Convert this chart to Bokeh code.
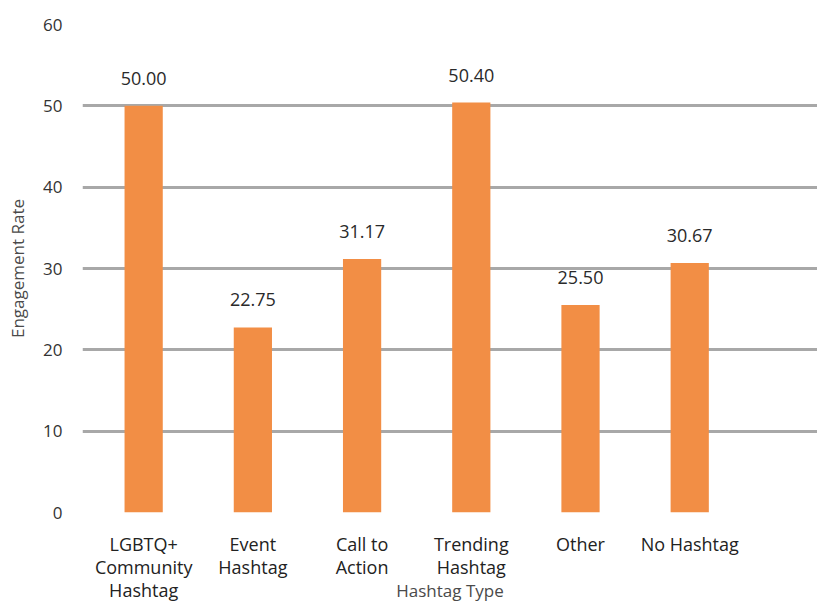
from bokeh.plotting import figure
from bokeh.models import ColumnDataSource, Range1d, FixedTicker, LabelSet
from bokeh.core.properties import value
from bokeh.embed import file_html
from bokeh.resources import INLINE

categories = ["LGBTQ+\nCommunity\nHashtag", "Event\nHashtag", "Call to\nAction",
              "Trending\nHashtag", "Other", "No Hashtag"]
engagement = [50.00, 22.75, 31.17, 50.40, 25.50, 30.67]
value_labels = ["50.00", "22.75", "31.17", "50.40", "25.50", "30.67"]
y_ticks = [0, 10, 20, 30, 40, 50, 60]

xs = list(range(len(categories)))
src = ColumnDataSource(dict(x=xs, y=engagement, lab=value_labels))

FONT = "Open Sans"

p = figure(width=817, height=604, output_backend="svg", toolbar_location=None,
           x_range=Range1d(-0.56, 6.17), y_range=Range1d(0, 60),
           min_border_left=82, min_border_right=0, min_border_top=24, min_border_bottom=20)
p.outline_line_color = None
p.background_fill_color = "white"
p.border_fill_color = "white"

p.vbar(x="x", top="y", width=0.35, source=src, fill_color="#F28E45", line_color=None)

labels = LabelSet(x="x", y="y", text="lab", source=src, text_align="center",
                  text_baseline="bottom", y_offset=21, text_font=value(FONT),
                  text_font_size="18px", text_color="#2a2a2a")
p.add_layout(labels)

# axes
p.xaxis.ticker = FixedTicker(ticks=xs)
p.xaxis.major_label_overrides = {i: c for i, c in enumerate(categories)}
p.xaxis.axis_line_color = None
p.xaxis.major_tick_line_color = None
p.xaxis.minor_tick_line_color = None
p.xaxis.major_tick_out = 0
p.xaxis.major_tick_in = 0
p.xaxis.major_label_standoff = 19
p.xaxis.major_label_text_font = FONT
p.xaxis.major_label_text_font_size = "18px"
p.xaxis.major_label_text_line_height = 0.96
p.xaxis.major_label_text_color = "#222222"
p.xaxis.axis_label = "Hashtag Type"
p.xaxis.axis_label_standoff = -26
p.xaxis.axis_label_text_font = FONT
p.xaxis.axis_label_text_font_style = "normal"
p.xaxis.axis_label_text_font_size = "17px"
p.xaxis.axis_label_text_color = "#4a4a4a"

p.yaxis.ticker = FixedTicker(ticks=y_ticks)
p.yaxis.axis_line_color = None
p.yaxis.major_tick_line_color = None
p.yaxis.minor_tick_line_color = None
p.yaxis.major_tick_out = 0
p.yaxis.major_tick_in = 0
p.yaxis.major_label_standoff = 20
p.yaxis.major_label_text_font = FONT
p.yaxis.major_label_text_font_size = "17px"
p.yaxis.major_label_text_color = "#333333"
p.yaxis.axis_label = "Engagement Rate"
p.yaxis.axis_label_text_font = FONT
p.yaxis.axis_label_text_font_style = "normal"
p.yaxis.axis_label_text_font_size = "17px"
p.yaxis.axis_label_text_color = "#4a4a4a"
p.yaxis.axis_label_standoff = 11

p.xgrid.grid_line_color = None
p.ygrid.ticker = FixedTicker(ticks=y_ticks)
p.ygrid.grid_line_color = "#A8A8A8"
p.ygrid.grid_line_width = 3

open("out.html", "w").write(file_html(p, INLINE))
